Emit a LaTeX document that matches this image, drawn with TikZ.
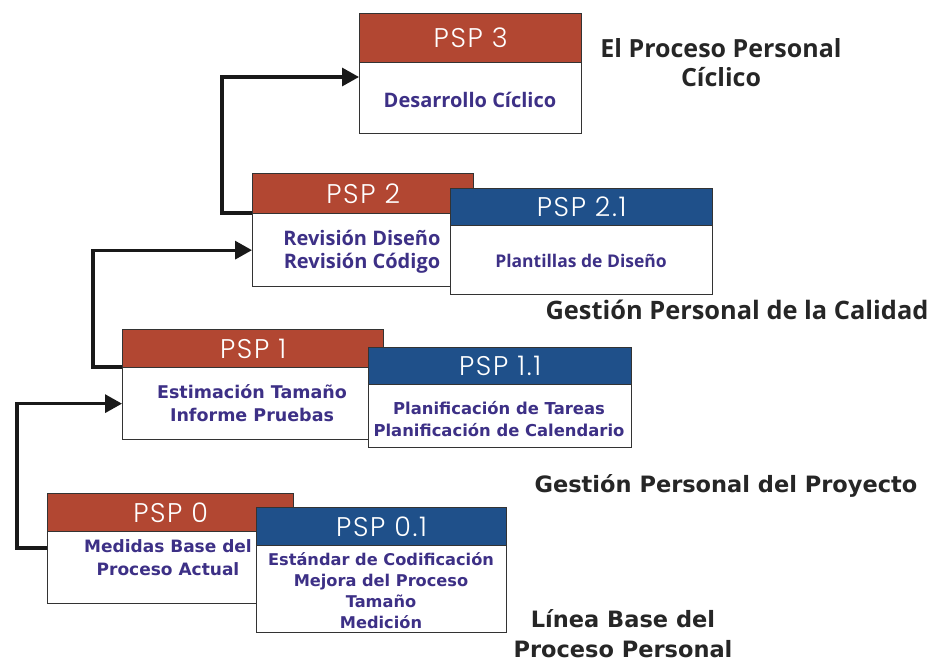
\documentclass[tikz,border=0pt]{standalone}
\usepackage{fontspec}
\setmainfont{DejaVu Sans}
\newfontfamily\headfont{Poppins Light}[LetterSpace=6]
\newfontfamily\narrowfont{Open Sans}
\usepackage{tikz}
\usetikzlibrary{arrows.meta,calc}

\definecolor{pspred}{RGB}{178,71,50}
\definecolor{pspblue}{RGB}{31,80,138}
\definecolor{psptext}{RGB}{61,48,134}

\begin{document}
\begin{tikzpicture}[x=1pt, y=-1pt,
    head/.style={draw=black!80, line width=1.3pt, anchor=north west, inner sep=0pt,
        text=white, font=\headfont\fontsize{27}{27}\selectfont},
    redhead/.style={head, fill=pspred},
    bluehead/.style={head, fill=pspblue},
    body/.style={draw=black!80, line width=1.3pt, fill=white, anchor=north west, inner sep=0pt},
    item/.style={text=psptext, align=center, inner sep=0pt,
        font=\bfseries\fontsize{17}{23}\selectfont},
    itemn/.style={item, font=\narrowfont\bfseries\fontsize{19}{23}\selectfont},
    level/.style={align=center, inner sep=0pt, text=black!85,
        font=\bfseries\fontsize{22.5}{30}\selectfont},
    leveln/.style={level, font=\narrowfont\bfseries\fontsize{24}{29}\selectfont},
    flow/.style={line width=3.3pt, draw=black!90, -{Triangle[length=17pt,width=18pt]}}]

  \useasboundingbox (0,0) rectangle (941,662);

  % PSP 0 and 0.1
  \node[redhead, minimum width=246pt, minimum height=38pt] (psp0h) at (47,493) {PSP 0};
  \node[body, minimum width=246pt, minimum height=72pt] (psp0b) at (47,531) {};
  \node[item] (psp0t) at (168,558) {Medidas Base del\\Proceso Actual};
  \node[bluehead, minimum width=250pt, minimum height=38pt] (psp01h) at (256,507) {PSP 0.1};
  \node[body, minimum width=250pt, minimum height=87pt] (psp01b) at (256,545) {};
  \node[item, font=\bfseries\fontsize{16.2}{21}\selectfont] (psp01t) at (381,590.5)
        {Estándar de Codificación\\Mejora del Proceso\\Tamaño\\Medición};

  % PSP 1 and 1.1
  \node[redhead, minimum width=261pt, minimum height=38pt] (psp1h) at (122,329) {PSP 1};
  \node[body, minimum width=261pt, minimum height=72pt] (psp1b) at (122,367) {};
  \node[item, font=\bfseries\fontsize{17.5}{23}\selectfont] (psp1t) at (252,403.5)
        {Estimación Tamaño\\Informe Pruebas};
  \node[bluehead, minimum width=263pt, minimum height=37pt] (psp11h) at (368,347) {PSP 1.1};
  \node[body, minimum width=263pt, minimum height=63pt] (psp11b) at (368,384) {};
  \node[item, font=\bfseries\fontsize{16.4}{22}\selectfont] (psp11t) at (499,419)
        {Planificación de Tareas\\Planificación de Calendario};

  % PSP 2 and 2.1
  \node[redhead, minimum width=221pt, minimum height=40pt] (psp2h) at (252,173) {PSP 2};
  \node[body, minimum width=221pt, minimum height=73pt] (psp2b) at (252,213) {};
  \node[itemn, font=\narrowfont\bfseries\fontsize{20}{23}\selectfont] (psp2t) at (362,251.5)
        {Revisión Diseño\\Revisión Código};
  \node[bluehead, minimum width=262pt, minimum height=37pt] (psp21h) at (450,188) {PSP 2.1};
  \node[body, minimum width=262pt, minimum height=69pt] (psp21b) at (450,225) {};
  \node[itemn, font=\narrowfont\bfseries\fontsize{17.5}{20}\selectfont] (psp21t) at (581,261)
        {Plantillas de Diseño};

  % PSP 3
  \node[redhead, minimum width=222pt, minimum height=49pt] (psp3h) at (359,13) {PSP 3};
  \node[body, minimum width=222pt, minimum height=71pt] (psp3b) at (359,62) {};
  \node[itemn, font=\narrowfont\bfseries\fontsize{20}{20}\selectfont] (psp3t) at (470,100)
        {Desarrollo Cíclico};

  % level names
  \node[leveln, font=\narrowfont\bfseries\fontsize{25}{29}\selectfont] (lvl3) at (721,63)
        {El Proceso Personal\\Cíclico};
  \node[leveln, font=\narrowfont\bfseries\fontsize{25.4}{29}\selectfont] (lvl2) at (737,310)
        {Gestión Personal de la Calidad};
  \node[level] (lvl1) at (726,486) {Gestión Personal del Proyecto};
  \node[level] (lvl0) at (623,634) {Línea Base del\\Proceso Personal};

  % steps up
  \draw[flow] ($(psp0b.north west)+(0,17)$) -- ++(-30,0) |- (psp1b.west);
  \draw[flow] (psp1b.north west) -- ++(-29,0) |- (psp2b.west);
  \draw[flow] (psp2b.north west) -- ++(-30,0) |- ($(psp3b.north west)+(0,15)$);
\end{tikzpicture}
\end{document}
